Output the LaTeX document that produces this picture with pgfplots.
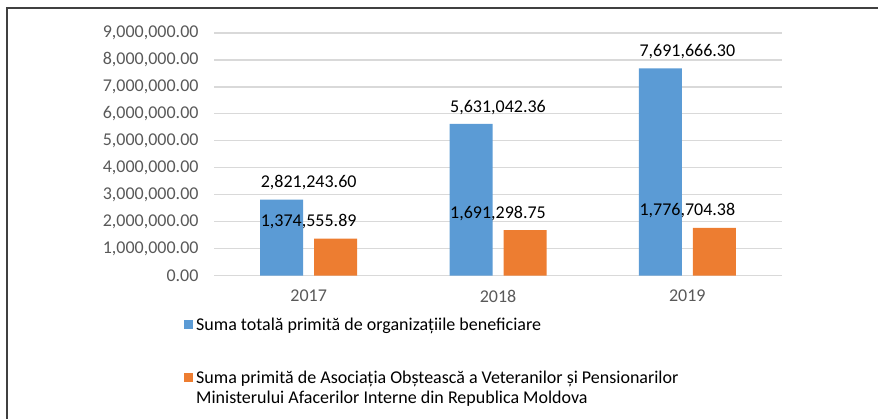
\documentclass[border=0pt]{standalone}
\usepackage{pgfplots}
\pgfplotsset{compat=1.18}
\usepackage{fontspec}
\setmainfont{Carlito}
\definecolor{cblue}{HTML}{5B9BD5}
\definecolor{corange}{HTML}{ED7D31}
\definecolor{tickgray}{HTML}{595959}
\definecolor{gridgray}{HTML}{D9D9D9}
\newcommand{\cf}{\fontsize{18}{21}\selectfont}
\begin{document}
\begin{tikzpicture}[x=1pt,y=1pt]
\path[use as bounding box] (0,0) rectangle (878,419);
\draw[line width=1.5pt, color=black!75] (7,0) -- (7,411) -- (878,411);
\begin{axis}[
  at={(214pt,143.3pt)}, anchor=south west,
  scale only axis, width=568pt, height=242.7pt,
  xmin=-0.5, xmax=2.5, ymin=0, ymax=9000000,
  scaled y ticks=false,
  axis line style={draw=none},
  tick style={draw=none},
  ymajorgrids, grid style={gridgray, line width=1.2pt},
  xtick={0,1,2}, xticklabels={2017,2018,2019},
  ytick={0,1000000,2000000,3000000,4000000,5000000,6000000,7000000,8000000,9000000},
  yticklabels={0.00,{1,000,000.00},{2,000,000.00},{3,000,000.00},{4,000,000.00},{5,000,000.00},{6,000,000.00},{7,000,000.00},{8,000,000.00},{9,000,000.00}},
  ticklabel style={font=\cf, text=tickgray},
  yticklabel style={xshift=-12pt},
  xticklabel style={yshift=-11pt},
  clip=false,
  point meta=explicit symbolic,
  nodes near coords,
  nodes near coords style={font=\cf, text=black, anchor=south, yshift=6pt},
]
\addplot[ybar, bar width=43pt, bar shift=-27pt, fill=cblue, draw=none]
  coordinates {(0,2821243.60) [{2,821,243.60}] (1,5631042.36) [{5,631,042.36}] (2,7691666.30) [{7,691,666.30}]};
\addplot[ybar, bar width=43pt, bar shift=27pt, fill=corange, draw=none]
  coordinates {(0,1374555.89) [{1,374,555.89}] (1,1691298.75) [{1,691,298.75}] (2,1776704.38) [{1,776,704.38}]};
\end{axis}
\fill[cblue] (184,89.5) rectangle ++(9,9);
\node[anchor=base west, inner sep=0, font=\cf] at (196,88) {Suma totală primită de organizațiile beneficiare};
\fill[corange] (184,36.5) rectangle ++(9,9);
\node[anchor=base west, inner sep=0, font=\cf] at (196,35) {Suma primită de Asociația Obștească a Veteranilor și Pensionarilor};
\node[anchor=base west, inner sep=0, font=\cf] at (196,15) {Ministerului Afacerilor Interne din Republica Moldova};
\end{tikzpicture}
\end{document}
